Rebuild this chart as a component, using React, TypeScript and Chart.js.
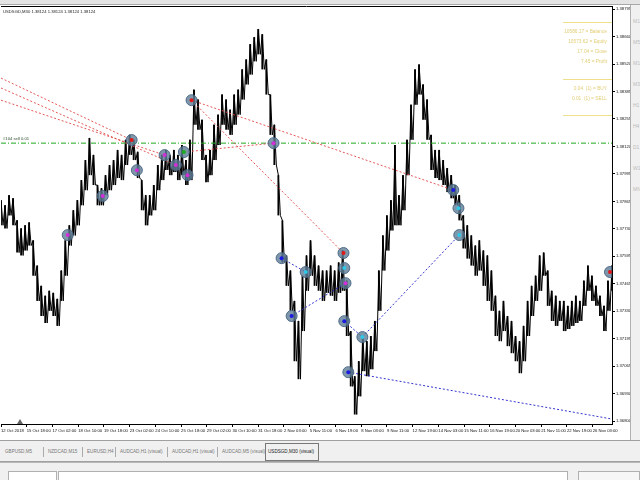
import React, { useEffect, useRef } from 'react';
import { Chart, registerables } from 'chart.js';
Chart.register(...registerables);

// ---- price data: one column every 10 M30 bars ----
const BAR_STEP = 10;
const HIGHS = [
  1.37870, 1.37845, 1.37894, 1.37879, 1.37772, 1.37733, 1.37748, 1.37762, 1.37675, 1.37553,
  1.37455, 1.37407, 1.37431, 1.37421, 1.37392, 1.37529, 1.37675, 1.37748, 1.37821, 1.37870,
  1.37967, 1.38064, 1.38171, 1.38089, 1.37943, 1.37928, 1.37991, 1.38040, 1.38064, 1.38113,
  1.38089, 1.38162, 1.38186, 1.38162, 1.38104, 1.37967, 1.37894, 1.37894, 1.37943, 1.38040,
  1.38089, 1.38113, 1.38089, 1.38113, 1.38089, 1.38137, 1.38064, 1.38162, 1.38405, 1.38357,
  1.38259, 1.38089, 1.38113, 1.38235, 1.38284, 1.38381, 1.38357, 1.38308, 1.38381, 1.38405,
  1.38503, 1.38551, 1.38625, 1.38659, 1.38698, 1.38673, 1.38551, 1.38381, 1.38235, 1.37991,
  1.37772, 1.37602, 1.37529, 1.37382, 1.37285, 1.37504, 1.37602, 1.37675, 1.37602, 1.37553,
  1.37529, 1.37529, 1.37553, 1.37529, 1.37568, 1.37626, 1.37480, 1.37236, 1.37017, 1.37090,
  1.37212, 1.37187, 1.37212, 1.37285, 1.37529, 1.37699, 1.37796, 1.37870, 1.38137, 1.37894,
  1.37991, 1.38162, 1.38332, 1.38503, 1.38527, 1.38430, 1.38357, 1.38186, 1.38113, 1.38113,
  1.38064, 1.38025, 1.37991, 1.37943, 1.37894, 1.37796, 1.37748, 1.37699, 1.37650, 1.37675,
  1.37626, 1.37602, 1.37529, 1.37407, 1.37334, 1.37382, 1.37309, 1.37285, 1.37212, 1.37187,
  1.37261, 1.37382, 1.37455, 1.37504, 1.37602, 1.37616, 1.37529, 1.37431, 1.37407, 1.37382,
  1.37382, 1.37358, 1.37382, 1.37407, 1.37382, 1.37480, 1.37553, 1.37504, 1.37455, 1.37407,
  1.37358, 1.37480, 1.37553,
];
const LOWS = [
  1.37748, 1.37733, 1.37796, 1.37748, 1.37616, 1.37602, 1.37626, 1.37650, 1.37504, 1.37382,
  1.37309, 1.37275, 1.37334, 1.37309, 1.37261, 1.37382, 1.37504, 1.37650, 1.37699, 1.37748,
  1.37845, 1.37918, 1.37991, 1.37943, 1.37845, 1.37845, 1.37894, 1.37918, 1.37943, 1.37977,
  1.37967, 1.38040, 1.38089, 1.38064, 1.37977, 1.37821, 1.37748, 1.37796, 1.37821, 1.37918,
  1.37967, 1.38016, 1.37991, 1.38006, 1.37967, 1.37991, 1.37943, 1.37967, 1.38235, 1.38211,
  1.38064, 1.37957, 1.37991, 1.38064, 1.38137, 1.38235, 1.38211, 1.38186, 1.38235, 1.38284,
  1.38357, 1.38430, 1.38478, 1.38542, 1.38576, 1.38503, 1.38381, 1.38186, 1.38040, 1.37796,
  1.37568, 1.37455, 1.37334, 1.37090, 1.37003, 1.37236, 1.37431, 1.37504, 1.37455, 1.37431,
  1.37382, 1.37421, 1.37407, 1.37382, 1.37421, 1.37431, 1.37212, 1.36968, 1.36832, 1.36920,
  1.37042, 1.37017, 1.37051, 1.37139, 1.37334, 1.37529, 1.37626, 1.37723, 1.37748, 1.37748,
  1.37821, 1.37991, 1.38162, 1.38332, 1.38381, 1.38259, 1.38162, 1.38016, 1.37977, 1.37967,
  1.37943, 1.37909, 1.37879, 1.37845, 1.37772, 1.37636, 1.37587, 1.37553, 1.37504, 1.37529,
  1.37455, 1.37382, 1.37334, 1.37212, 1.37187, 1.37236, 1.37163, 1.37129, 1.37090, 1.37032,
  1.37090, 1.37212, 1.37309, 1.37382, 1.37431, 1.37504, 1.37358, 1.37285, 1.37261, 1.37285,
  1.37236, 1.37246, 1.37261, 1.37275, 1.37285, 1.37358, 1.37431, 1.37382, 1.37358, 1.37309,
  1.37236, 1.37334, 1.37431,
];

// ---- axes ----
const X_MIN = 0;
const X_MAX = 1520;
const X_TICK_BARS = [0, 64, 128, 192, 256, 320, 384, 448, 512, 576, 640, 704, 768, 832, 896, 960, 1024, 1088, 1152, 1216, 1280, 1344, 1408, 1472];
const X_TICK_LABELS = [
  '12 Oct 2018', '15 Oct 18:00', '17 Oct 02:00', '18 Oct 10:00', '19 Oct 18:00', '23 Oct 02:00',
  '24 Oct 10:00', '25 Oct 18:00', '29 Oct 02:00', '30 Oct 10:00', '31 Oct 18:00', '2 Nov 03:00',
  '5 Nov 11:00', '6 Nov 19:00', '8 Nov 03:00', '9 Nov 11:00', '12 Nov 19:00', '14 Nov 03:00',
  '15 Nov 11:00', '16 Nov 19:00', '20 Nov 03:00', '21 Nov 11:00', '22 Nov 19:00', '26 Nov 03:00',
];
const Y_MIN = 1.36786;
const Y_MAX = 1.38810;
const Y_TICK_VALUES = [1.38795, 1.38662, 1.38529, 1.38396, 1.38263, 1.38130, 1.37997, 1.37864, 1.37731, 1.37598, 1.37465, 1.37332, 1.37199, 1.37066, 1.36933, 1.36800];
const Y_TICK_LABELS = ['1.38795', '1.38660', '1.38520', '1.38385', '1.38255', '1.38120', '1.37995', '1.37865', '1.37730', '1.37595', '1.37465', '1.37330', '1.37195', '1.37065', '1.36930', '1.36800'];

// ---- orders ----
const SELL_LEVEL = 1.38146;
const SELL_FROM_BAR = [0, 0, 0, 455, 474, 474];
const SELL_FROM_PRICE = [1.38461, 1.38413, 1.38354, 1.38103, 1.38354, 1.38354];
const SELL_TO_BAR = [325, 435, 407, 678, 852, 1125];
const SELL_TO_PRICE = [1.38161, 1.38040, 1.38088, 1.38146, 1.37614, 1.37919];
const BUY_FROM_BAR = [698, 723, 854, 864, 899];
const BUY_FROM_PRICE = [1.37589, 1.37309, 1.37284, 1.37037, 1.37207];
const BUY_TO_BAR = [758, 857, 899, 1520, 1140];
const BUY_TO_PRICE = [1.37522, 1.37468, 1.37207, 1.36810, 1.37701];

const MARK_BAR = [166, 253, 325, 338, 407, 435, 455, 464, 474, 678, 698, 723, 758, 852, 854, 857, 854, 864, 899, 1125, 1138, 1140, 1515];
const MARK_PRICE = [1.37701, 1.37890, 1.38161, 1.38015, 1.38088, 1.38040, 1.38103, 1.37991, 1.38354, 1.38146, 1.37589, 1.37309, 1.37522, 1.37614, 1.37541, 1.37468, 1.37284, 1.37037, 1.37207, 1.37919, 1.37831, 1.37701, 1.37522];
const MARK_KIND = ['closeSell', 'closeSell', 'sell', 'closeSell', 'closeSell', 'closeSell', 'modify', 'closeSell', 'sell', 'closeSell', 'buy', 'buy', 'closeBuy', 'sell', 'closeBuy', 'closeSell', 'buy', 'buy', 'closeBuy', 'buy', 'closeBuy', 'closeBuy', 'sell'];

const TABS = ['GBPUSD,M5', 'NZDCAD,M15', 'EURUSD,H4', 'AUDCAD,H1 (visual)', 'AUDCAD,H1 (visual)', 'AUDCAD,M5 (visual)', 'USDSGD,M30 (visual)'];
const TAB_LEFT = [5, 48, 87, 120, 172, 222, 268];
const INFO_TOP = ['10586.17 = Balance', '10573.62 = Equity', '17.04 = Close', '7.45 = Profit'];
const INFO_BOTTOM = ['0.04  (1) = BUY', '0.01  (1) = SELL'];
const PERIODS = ['M1', 'M5', 'M15', 'M30', 'H1', 'H4', 'D1', 'W1', 'MN'];

const KIND_COLOR: Record<string, string> = {
  sell: '#e01818', buy: '#1a1ae0', closeSell: '#d030d8', closeBuy: '#30c8e8', modify: '#18b018',
};

const FONT = '"Liberation Sans", Arial, sans-serif';

const framePlugin = {
  id: 'frame',
  afterDraw(chart: any) {
    const { ctx, chartArea: a } = chart;
    ctx.save();
    ctx.strokeStyle = '#000';
    ctx.lineWidth = 1;
    ctx.beginPath();
    ctx.moveTo(a.left, Math.round(a.top) + 0.5);
    ctx.lineTo(a.right, Math.round(a.top) + 0.5);
    ctx.stroke();
    ctx.fillStyle = '#666';
    ctx.beginPath();
    ctx.moveTo(20, a.bottom - 5);
    ctx.lineTo(17, a.bottom);
    ctx.lineTo(23, a.bottom);
    ctx.closePath();
    ctx.fill();
    ctx.restore();
  },
};

export default function App() {
  const ref = useRef<HTMLCanvasElement>(null);
  useEffect(() => {
    document.body.style.margin = '0';
    const canvas = ref.current!;
    const barData = HIGHS.map((h, i) => ({ x: i * BAR_STEP, y: [LOWS[i], h] }));
    // a scribble through each column's high and low, like densely packed bars
    const zigzag: { x: number; y: number }[] = [];
    HIGHS.forEach((h, i) => {
      zigzag.push({ x: i * BAR_STEP, y: h });
      zigzag.push({ x: i * BAR_STEP + BAR_STEP / 2, y: LOWS[i] });
    });
    const lineSet = (x1: number, y1: number, x2: number, y2: number, color: string) => ({
      type: 'line' as const,
      data: [{ x: x1, y: y1 }, { x: x2, y: y2 }],
      borderColor: color,
      borderWidth: 1,
      borderDash: [2, 2],
      pointRadius: 0,
      fill: false,
      order: 5,
    });
    const sellSets = SELL_FROM_BAR.map((b, i) => lineSet(b, SELL_FROM_PRICE[i], SELL_TO_BAR[i], SELL_TO_PRICE[i], 'rgba(225,70,70,0.9)'));
    const buySets = BUY_FROM_BAR.map((b, i) => lineSet(b, BUY_FROM_PRICE[i], BUY_TO_BAR[i], BUY_TO_PRICE[i], 'rgba(30,30,200,0.9)'));
    const marks = MARK_BAR.map((b, i) => ({ x: b, y: MARK_PRICE[i] }));
    const chart = new Chart(canvas, {
      type: 'bar',
      data: {
        datasets: [
          {
            type: 'bar',
            data: barData as any,
            backgroundColor: '#000',
            borderWidth: 0,
            barPercentage: 1,
            categoryPercentage: 0.45,
            order: 10,
          } as any,
          {
            type: 'line',
            data: zigzag,
            borderColor: '#000',
            borderWidth: 1,
            pointRadius: 0,
            tension: 0,
            order: 9,
          } as any,
          {
            type: 'line',
            data: [{ x: X_MIN, y: SELL_LEVEL }, { x: X_MAX, y: SELL_LEVEL }],
            borderColor: '#1fa81f',
            borderWidth: 1,
            borderDash: [5, 2, 1, 2],
            pointRadius: 0,
            order: 6,
          } as any,
          ...sellSets,
          ...buySets,
          {
            type: 'scatter',
            data: marks,
            pointRadius: 5.5,
            pointBackgroundColor: 'rgba(95,125,150,0.8)',
            pointBorderColor: 'rgba(70,100,130,0.9)',
            pointBorderWidth: 1,
            order: 2,
          } as any,
          {
            type: 'scatter',
            data: marks,
            pointRadius: 2,
            pointBackgroundColor: MARK_KIND.map((k) => KIND_COLOR[k]),
            pointBorderWidth: 0,
            order: 1,
          } as any,
        ],
      },
      options: {
        animation: false,
        responsive: false,
        maintainAspectRatio: false,
        layout: { autoPadding: false, padding: { top: 6, left: 0, right: 0, bottom: 0 } },
        plugins: { legend: { display: false }, tooltip: { enabled: false } },
        scales: {
          x: {
            type: 'linear',
            min: X_MIN,
            max: X_MAX,
            offset: false,
            grid: { display: true, drawOnChartArea: false, drawTicks: true, tickLength: 3, color: '#000', offset: false },
            border: { display: true, color: '#000' },
            ticks: {
              autoSkip: false,
              maxRotation: 0,
              minRotation: 0,
              align: 'start',
              padding: 1,
              color: '#111',
              font: { size: 4.2, family: FONT },
              callback: (_v: any, i: number) => X_TICK_LABELS[i],
            },
            afterBuildTicks: (s: any) => { s.ticks = X_TICK_BARS.map((v) => ({ value: v })); },
            afterFit: (s: any) => { s.height = 16; },
          },
          y: {
            type: 'linear',
            position: 'right',
            min: Y_MIN,
            max: Y_MAX,
            grid: { display: true, drawOnChartArea: false, drawTicks: true, tickLength: 3, color: '#000' },
            border: { display: true, color: '#000' },
            ticks: {
              autoSkip: false,
              padding: 1,
              color: '#111',
              font: { size: 4.2, family: FONT },
              callback: (_v: any, i: number) => Y_TICK_LABELS[i],
            },
            afterBuildTicks: (s: any) => { s.ticks = Y_TICK_VALUES.map((v) => ({ value: v })); },
            afterFit: (s: any) => { s.width = 20; },
          },
        },
      } as any,
      plugins: [framePlugin],
    });
    return () => chart.destroy();
  }, []);

  const small = { position: 'absolute' as const, fontFamily: FONT, whiteSpace: 'nowrap' as const, lineHeight: 1 };
  return (
    <div style={{ position: 'relative', width: 640, height: 480, overflow: 'hidden', background: '#fff' }}>
      <div style={{ position: 'absolute', left: 0, top: 0, width: 640, height: 4, background: '#e4e4e4', borderBottom: '1px solid #a8a8a8' }} />
      <canvas ref={ref} width={632} height={440} style={{ position: 'absolute', left: 0, top: 0, width: 632, height: 440 }} />
      <div style={{ ...small, left: 3, top: 10, fontSize: 4.2, color: '#222' }}>USDSGD,M30  1.38124 1.38124 1.38124 1.38124</div>
      <div style={{ ...small, left: 3, top: 137, fontSize: 4.2, color: '#2c4a2c' }}>#104 sell 0.01</div>
      {/* info box */}
      <div style={{ position: 'absolute', left: 563, top: 22, width: 49, height: 0, borderTop: '1px solid #eee08c' }} />
      <div style={{ position: 'absolute', left: 563, top: 79, width: 49, height: 0, borderTop: '1px solid #eee08c' }} />
      <div style={{ position: 'absolute', left: 563, top: 115, width: 49, height: 0, borderTop: '1px solid #eee08c' }} />
      {INFO_TOP.map((t, i) => (
        <div key={t} style={{ ...small, right: 640 - 607, top: 30 + i * 10, fontSize: 4.8, color: '#e2ce78', textAlign: 'right' }}>{t}</div>
      ))}
      {INFO_BOTTOM.map((t, i) => (
        <div key={t} style={{ ...small, right: 640 - 607, top: 87 + i * 10, fontSize: 4.8, color: '#e2ce78', textAlign: 'right', whiteSpace: 'pre' }}>{t}</div>
      ))}
      {/* right panel */}
      <div style={{ position: 'absolute', left: 630, top: 5, width: 10, height: 436, background: '#f0f0f0', borderLeft: '1px solid #b0b0b0' }}>
        {PERIODS.map((p, i) => (
          <div key={p} style={{ ...small, left: 2, top: 14 + i * 21, fontSize: 5, color: '#bbb' }}>{p}</div>
        ))}
      </div>
      {/* tabs */}
      <div style={{ position: 'absolute', left: 0, top: 440, width: 640, height: 20, background: '#f0f0f0', borderTop: '1px solid #a0a0a0', borderBottom: '1px solid #a0a0a0' }} />
      {TABS.map((t, i) => (
        <div key={i} style={{ ...small, left: TAB_LEFT[i], top: 450, fontSize: 4.6, color: i === TABS.length - 1 ? '#222' : '#777' }}>{t}</div>
      ))}
      {TAB_LEFT.slice(1, -1).map((l, i) => (
        <div key={'s' + i} style={{ position: 'absolute', left: l - 5, top: 447, width: 1, height: 10, background: '#aaa' }} />
      ))}
      <div style={{ position: 'absolute', left: 265, top: 443, width: 52, height: 16, border: '1px solid #777', background: 'transparent' }} />
      {/* bottom panel */}
      <div style={{ position: 'absolute', left: 0, top: 462, width: 640, height: 18, background: '#f0f0f0', borderTop: '1px solid #b8b8b8' }} />
      <div style={{ position: 'absolute', left: 8, top: 471, width: 47, height: 10, background: '#fff', border: '1px solid #b0b0b0' }} />
      <div style={{ position: 'absolute', left: 58, top: 471, width: 508, height: 10, background: '#fff', border: '1px solid #b0b0b0' }} />
      <div style={{ position: 'absolute', left: 578, top: 471, width: 60, height: 10, background: '#f6f6f6', border: '1px solid #b0b0b0' }} />
    </div>
  );
}
